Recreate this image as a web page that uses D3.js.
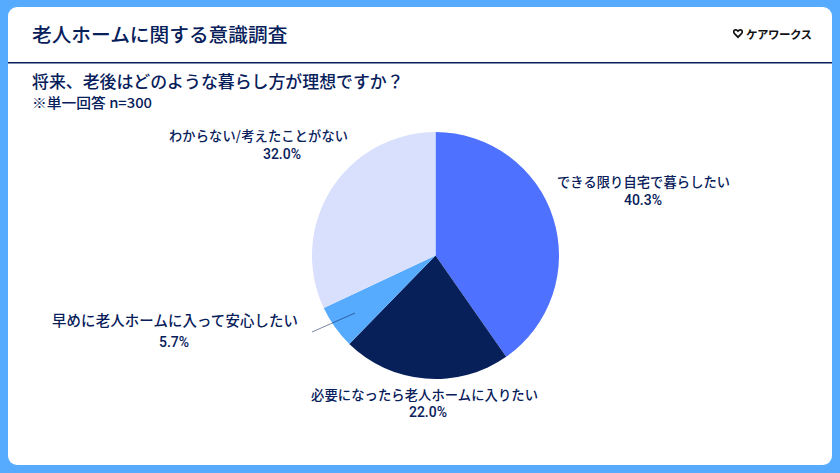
<!DOCTYPE html>
<html>
<head>
<meta charset="utf-8">
<script src="https://cdn.jsdelivr.net/npm/d3@7"></script>
<style>
html, body { margin: 0; padding: 0; background: #57abff; }
svg { display: block; }
text { font-family: "Noto Sans CJK JP", "Noto Sans", sans-serif; font-weight: 500; fill: #07205a; }
</style>
</head>
<body>
<script>
var categories = ["できる限り自宅で暮らしたい", "必要になったら老人ホームに入りたい", "早めに老人ホームに入って安心したい", "わからない/考えたことがない"];
var values = [40.3, 22.0, 5.7, 32.0];
var colors = ["#4f71ff", "#07205a", "#57abff", "#d9e0fd"];

// label layout: left edge, drawn width, font size and baseline of the name, centre and baseline of the percent
var nameX = [557, 311, 52, 169];
var nameW = [173, 227, 246, 179];
var nameSize = [13.2, 13.3, 14.4, 13.2];
var nameY = [187, 400, 326, 141];
var pctX = [643, 428, 174, 282];
var pctY = [205, 417, 347, 159];
var leaderLine = [[312, 332], [355, 313]];

var width = 840, height = 473;
var navy = "#07205a";

var svg = d3.select("body").append("svg")
    .attr("width", width)
    .attr("height", height);

// card + header
svg.append("rect").attr("width", width).attr("height", height).attr("fill", "#57abff");
svg.append("rect")
    .attr("x", 8).attr("y", 7).attr("width", 824).attr("height", 458).attr("rx", 9)
    .attr("fill", "#fff");
svg.append("rect").attr("x", 8).attr("y", 62).attr("width", 824).attr("height", 1.5).attr("fill", navy);

svg.append("text").attr("x", 32).attr("y", 42).attr("font-size", 19.7).text("老人ホームに関する意識調査");
svg.append("text").attr("x", 32).attr("y", 88).attr("font-size", 16.9).text("将来、老後はどのような暮らし方が理想ですか？");
svg.append("text").attr("x", 32).attr("y", 108).attr("font-size", 14)
    .attr("textLength", 120).attr("lengthAdjust", "spacingAndGlyphs").text("※単一回答 n=300");

// logo
var logo = svg.append("g").attr("transform", "translate(738,33)");
logo.append("path")
    .attr("d", "M0,-1.8 C-3,-5 -6,-1.6 -3,1.2 L0,4.2 L3,1.2 C6,-1.6 3,-5 0,-1.8 Z")
    .attr("fill", "none").attr("stroke", "#111").attr("stroke-width", 1.7);
svg.append("text").attr("x", 746).attr("y", 38.5).attr("font-size", 11.5)
    .attr("textLength", 66)
    .style("fill", "#111").style("font-weight", 700).text("ケアワークス");

// pie
var pie = d3.pie().sort(null).value(function(d) { return d; });
var arc = d3.arc().innerRadius(0).outerRadius(123.5);

var g = svg.append("g").attr("transform", "translate(435.5,255.5)");
g.selectAll("path")
    .data(pie(values))
    .join("path")
    .attr("d", arc)
    .attr("fill", function(d, i) { return colors[i]; });

// leader line for the small slice
svg.append("line")
    .attr("x1", leaderLine[0][0]).attr("y1", leaderLine[0][1])
    .attr("x2", leaderLine[1][0]).attr("y2", leaderLine[1][1])
    .attr("stroke", navy).attr("stroke-opacity", 0.55).attr("stroke-width", 1);

// labels
var labels = svg.selectAll("g.label")
    .data(categories)
    .join("g")
    .attr("class", "label");
labels.append("text")
    .attr("x", function(d, i) { return nameX[i]; })
    .attr("y", function(d, i) { return nameY[i]; })
    .attr("font-size", function(d, i) { return nameSize[i]; })
    .attr("textLength", function(d, i) { return nameW[i]; })
    .text(function(d) { return d; });
labels.append("text")
    .attr("x", function(d, i) { return pctX[i]; })
    .attr("y", function(d, i) { return pctY[i]; })
    .attr("text-anchor", "middle")
    .attr("font-size", 14)
    .style("font-family", "Roboto, sans-serif")
    .text(function(d, i) { return values[i].toFixed(1) + "%"; });
</script>
</body>
</html>
